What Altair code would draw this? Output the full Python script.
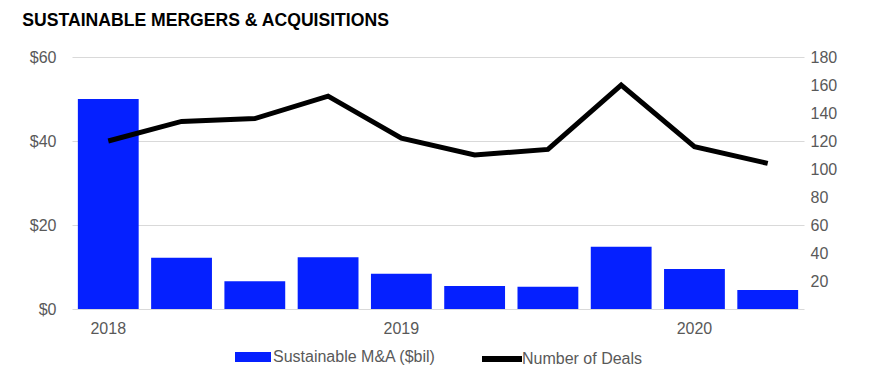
import altair as alt
import pandas as pd

quarters = ["2018 Q1", "2018 Q2", "2018 Q3", "2018 Q4",
            "2019 Q1", "2019 Q2", "2019 Q3", "2019 Q4",
            "2020 Q1", "2020 Q2"]
ma_bil = [50.0, 12.2, 6.6, 12.3, 8.4, 5.5, 5.3, 14.8, 9.5, 4.5]
deals = [120, 134, 136, 152, 122, 110, 114, 160, 116, 104]
left_ticks = [0, 20, 40, 60]
right_ticks = [20, 40, 60, 80, 100, 120, 140, 160, 180]

df = pd.DataFrame({
    "quarter": quarters,
    "ma": ma_bil,
    "deals": deals,
    "s1": ["Sustainable M&A ($bil)"] * len(quarters),
    "s2": ["Number of Deals"] * len(quarters),
})

FONT = "Liberation Sans"
GRAY = "#595959"
BLUE = "#0520ff"
FS = 16

x = alt.X("quarter:N", sort=quarters, title=None,
          scale=alt.Scale(paddingInner=0.17, paddingOuter=0.08),
          axis=alt.Axis(labelAngle=0, domain=False, ticks=False,
                        labelExpr="indexof(datum.value, 'Q1') >= 0 ? substring(datum.value, 0, 4) : ''",
                        labelPadding=11, labelFontSize=FS, labelColor=GRAY,
                        labelFont=FONT))

bars = alt.Chart(df).mark_bar(color=BLUE).encode(
    x=x,
    y=alt.Y("ma:Q", title=None,
            scale=alt.Scale(domain=[0, 60], nice=False),
            axis=alt.Axis(values=left_ticks, labelExpr="'$' + datum.value",
                          domain=False, ticks=False, grid=True,
                          gridColor="#d9d9d9", labelPadding=16,
                          labelFontSize=FS, labelColor=GRAY, labelFont=FONT)),
    color=alt.Color("s1:N", title=None,
                    scale=alt.Scale(range=[BLUE]),
                    legend=alt.Legend(orient="none", legendX=163, legendY=282,
                                      symbolType="M-1,-0.28H1V0.28H-1Z",
                                      symbolSize=1296, symbolStrokeWidth=0,
                                      labelFontSize=FS, labelColor=GRAY,
                                      labelFont=FONT, labelOffset=2,
                                      labelLimit=400)),
)

line = alt.Chart(df).mark_line(strokeWidth=5, strokeJoin="miter").encode(
    x=x,
    y=alt.Y("deals:Q", title=None,
            scale=alt.Scale(domain=[0, 180], nice=False),
            axis=alt.Axis(orient="right", values=right_ticks,
                          domain=False, ticks=False, grid=False,
                          labelPadding=6, labelFontSize=FS,
                          labelColor=GRAY, labelFont=FONT)),
    stroke=alt.Stroke("s2:N", title=None,
                      scale=alt.Scale(range=["#000000"]),
                      legend=alt.Legend(orient="none", legendX=410, legendY=282,
                                        symbolType="M-1,-0.15H1V0.15H-1Z",
                                        symbolSize=1600, symbolStrokeWidth=0,
                                        symbolFillColor="#000000",
                                        labelFontSize=FS, labelColor=GRAY,
                                        labelFont=FONT, labelOffset=0,
                                        labelLimit=400)),
)

chart = alt.layer(bars, line).resolve_scale(
    y="independent", color="independent", stroke="independent"
).properties(
    width=732, height=252,
    title=alt.Title("SUSTAINABLE MERGERS & ACQUISITIONS", anchor="start",
                    font=FONT, fontSize=17.6, fontWeight="bold", color="#000000",
                    offset=19, dx=-7),
    padding={"left": 14, "top": 4, "right": 5, "bottom": 5},
).configure_view(stroke=None)

chart.save("out.html", embed_options={"renderer": "svg", "actions": False})
